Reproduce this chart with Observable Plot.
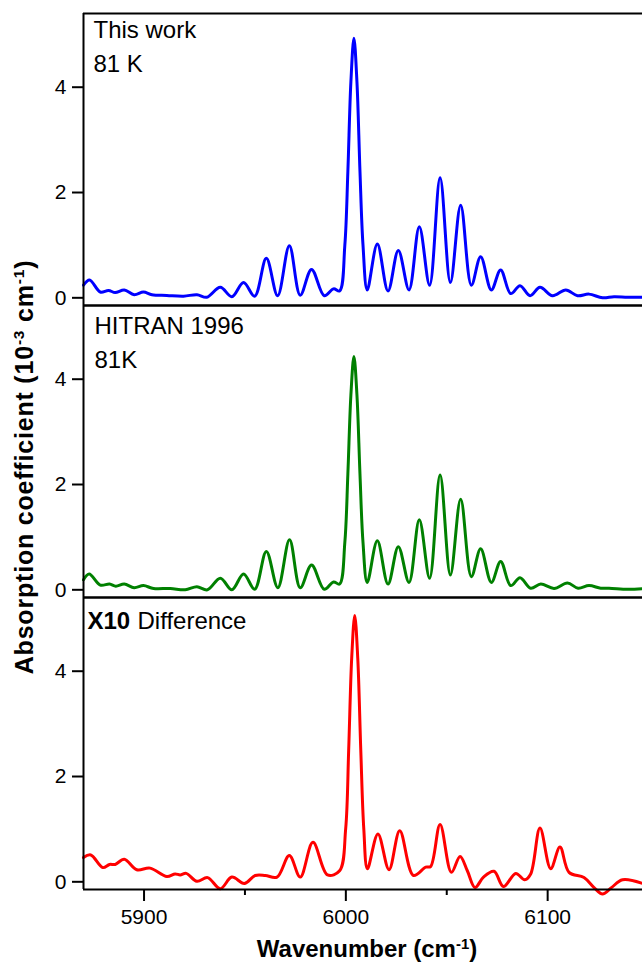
<!DOCTYPE html>
<html>
<head>
<meta charset="utf-8">
<script src="https://cdn.jsdelivr.net/npm/d3@7"></script>
<script src="https://cdn.jsdelivr.net/npm/@observablehq/plot@0.6"></script>
<style>
  html, body { margin: 0; padding: 0; background: #fff; overflow: hidden; }
  #wrap { position: relative; width: 642px; height: 962px; font-family: "Liberation Sans", Arial, sans-serif; color: #000; }
  #chart { position: absolute; left: 0; top: 0; }
  .lab { position: absolute; white-space: nowrap; font-weight: bold; font-size: 24px; line-height: 1; }
  #ylab { left: 24px; top: 467px; font-size: 25px; letter-spacing: 0.8px; transform: translate(-50%, -50%) rotate(-90deg); }
  #xlab { left: 367px; top: 949px; transform: translate(-50%, -50%); }
  .lab sup { font-size: 0.62em; vertical-align: 0.55em; line-height: 0; }
</style>
</head>
<body>
<div id="wrap">
  <div id="chart"></div>
  <div class="lab" id="ylab">Absorption coefficient (10<sup>-3</sup> cm<sup>-1</sup>)</div>
  <div class="lab" id="xlab">Wavenumber (cm<sup>-1</sup>)</div>
</div>
<script>
// ---- Data (wavenumber in cm-1, absorption in 1e-3 cm-1) ----
const panels = ["This work", "HITRAN 1996", "Difference"];
const xTicks = [5900, 6000, 6100];
const xMinorTicks = [5950, 6050];
const yTicks = [0, 2, 4];

const thisWorkX = [5870, 5873, 5878.3, 5882.4, 5885.7, 5890.2, 5895.1, 5899.7, 5903.9, 5911.3, 5919.6, 5926.2, 5931.1, 5937.8, 5943.5, 5949.3, 5954.8, 5960.6, 5966.2, 5972, 5977.4, 5983, 5989.3, 5993.9, 5996.9, 5999.5, 6001, 6002.5, 6004, 6005.5, 6007, 6008.5, 6010.6, 6015.6, 6020.9, 6026, 6031.3, 6036.4, 6041.5, 6046.7, 6051.8, 6056.9, 6062.2, 6066.8, 6072.1, 6076.7, 6081.7, 6086.3, 6091.3, 6096.2, 6102.4, 6109, 6114.8, 6120.5, 6127.2, 6132.9, 6139.6, 6147];
const thisWorkY = [0.24, 0.34, 0.11, 0.14, 0.10, 0.15, 0.06, 0.11, 0.06, 0.045, 0.03, 0.06, 0.01, 0.20, 0.02, 0.29, 0.03, 0.75, 0.04, 0.99, 0.05, 0.54, 0.04, 0.17, 0.13, 1.0, 2.4, 4.1, 4.93, 4.1, 2.4, 1.0, 0.15, 1.02, 0.13, 0.90, 0.15, 1.35, 0.24, 2.28, 0.29, 1.76, 0.24, 0.78, 0.15, 0.53, 0.08, 0.23, 0.04, 0.20, 0.04, 0.15, 0.04, 0.07, 0.0, 0.02, 0.01, 0.01];

const hitranX = [5870, 5872.8, 5878.3, 5882.9, 5886, 5890.2, 5895.1, 5899.7, 5904.7, 5913, 5920.4, 5926.2, 5931.4, 5937.8, 5943.5, 5949.3, 5954.8, 5960.6, 5966.3, 5972.1, 5977.4, 5983, 5989.3, 5993.9, 5996.9, 5999.5, 6001, 6002.5, 6004, 6005.5, 6007, 6008.5, 6010.6, 6015.6, 6020.9, 6026, 6031.3, 6036.4, 6041.5, 6046.7, 6051.8, 6056.9, 6062.2, 6066.8, 6072.1, 6076.7, 6081.7, 6086.3, 6091.6, 6096.6, 6103.2, 6109.8, 6115.1, 6120.5, 6126.3, 6130.4, 6139.6, 6147];
const hitranY = [0.19, 0.30, 0.09, 0.11, 0.07, 0.11, 0.04, 0.08, 0.025, 0.025, 0.0, 0.06, 0.0, 0.22, 0.0, 0.30, 0.01, 0.73, 0.04, 0.95, 0.04, 0.47, 0.01, 0.15, 0.11, 0.9, 2.2, 3.7, 4.43, 3.7, 2.2, 0.9, 0.14, 0.93, 0.11, 0.82, 0.14, 1.33, 0.22, 2.18, 0.28, 1.72, 0.25, 0.78, 0.14, 0.54, 0.08, 0.23, 0.03, 0.11, 0.025, 0.13, 0.03, 0.08, 0.03, 0.03, 0.01, 0.02];

const diffX = [5870, 5873.6, 5879.6, 5882.9, 5885.7, 5890.2, 5896.4, 5903, 5911.3, 5915.4, 5917.9, 5920.9, 5926.2, 5931.5, 5937.8, 5943.5, 5949.7, 5955.1, 5960.1, 5965.9, 5972, 5977.4, 5983.7, 5990.9, 5996.9, 5999.9, 6001.4, 6002.9, 6004.4, 6005.9, 6007.4, 6008.9, 6010.7, 6015.9, 6021.4, 6026.7, 6033.5, 6039.6, 6042, 6046.7, 6052.3, 6056.6, 6060.2, 6064, 6068.2, 6073.4, 6078.1, 6084.2, 6088.6, 6091.6, 6096.2, 6101.5, 6106.1, 6110.6, 6118, 6123, 6127.2, 6131.6, 6137.1, 6147];
const diffY = [0.46, 0.51, 0.27, 0.33, 0.33, 0.43, 0.23, 0.26, 0.10, 0.15, 0.13, 0.16, 0.01, 0.08, -0.13, 0.09, -0.03, 0.12, 0.12, 0.09, 0.50, 0.09, 0.75, 0.13, 0.21, 1.0, 2.5, 4.25, 5.06, 4.25, 2.5, 1.0, 0.25, 0.91, 0.23, 0.97, 0.12, 0.28, 0.29, 1.09, 0.18, 0.48, 0.21, -0.11, 0.09, 0.20, -0.09, 0.16, 0.04, 0.15, 1.02, 0.25, 0.66, 0.18, 0.08, -0.11, -0.23, -0.11, 0.04, -0.03];

const lineColors = ["#0000ff", "#008000", "#ff0000"];
const xDomain = [5870, 6147];
const yDomain = [-0.146, 5.40];

// ---- Build table ----
const rows = [];
[[thisWorkX, thisWorkY], [hitranX, hitranY], [diffX, diffY]].forEach(([xs, ys], k) => {
  xs.forEach((x, i) => rows.push({panel: panels[k], x, y: ys[i]}));
});

const font = "Liberation Sans, Arial, sans-serif";
const note = (text, panel, dx, dy, extra = {}) =>
  Plot.text([text], {fy: () => panel, text: d => d, frameAnchor: "top-left", textAnchor: "start",
    lineAnchor: "top", dx, dy, fontSize: 24, fill: "black", ...extra});

const chart = Plot.plot({
  width: 642,
  height: 962,
  marginLeft: 83,
  marginRight: 0,
  marginTop: 12,
  marginBottom: 73,
  style: {fontFamily: font, fontSize: "21px", background: "white", color: "black", overflow: "visible"},
  x: {domain: xDomain},
  y: {domain: yDomain},
  fy: {domain: panels, padding: 0, axis: null},
  color: {domain: panels, range: lineColors},
  marks: [
    Plot.line(rows, {x: "x", y: "y", fy: "panel", z: "panel", stroke: "panel", strokeWidth: 3, curve: "catmull-rom"}),
    Plot.ruleY(yDomain, {stroke: "black", strokeWidth: 2}),
    Plot.ruleX([xDomain[0]], {stroke: "black", strokeWidth: 2}),
    Plot.axisY({ticks: yTicks, tickSize: 11, tickPadding: 6, strokeWidth: 2, label: null, tickFormat: d => String(d), fontSize: 21}),
    Plot.axisX({ticks: xTicks, tickSize: 12, tickPadding: 8, strokeWidth: 2, label: null, tickFormat: d => String(d), fontSize: 21}),
    Plot.axisX({ticks: xMinorTicks, tickSize: 6, strokeWidth: 2, label: null, text: null}),
    note("This work", panels[0], 10, 7),
    note("81 K", panels[0], 10, 41),
    note("HITRAN 1996", panels[1], 11, 11),
    note("81K", panels[1], 11, 45),
    note("X10", panels[2], 4, 14, {fontWeight: "bold"}),
    note("Difference", panels[2], 54, 14)
  ]
});
document.getElementById("chart").appendChild(chart);
</script>
</body>
</html>
